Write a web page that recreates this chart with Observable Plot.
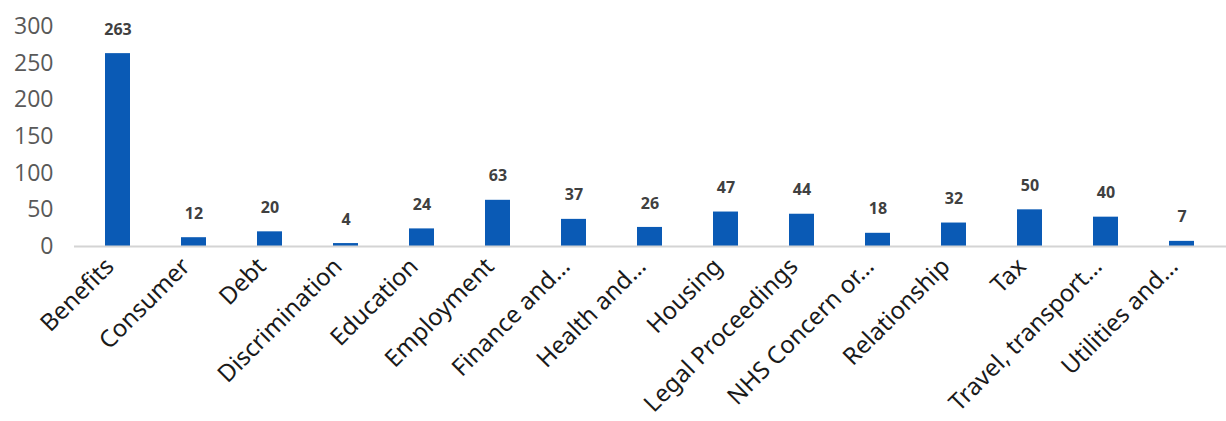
<!DOCTYPE html>
<html>
<head>
<meta charset="utf-8">
<script src="https://cdn.jsdelivr.net/npm/d3@7"></script>
<script src="https://cdn.jsdelivr.net/npm/@observablehq/plot@0.6"></script>
<style>
  html, body { margin: 0; padding: 0; background: #fff; }
  #chart svg { display: block; }
</style>
</head>
<body>
<div id="chart"></div>
<script>
// Enquiries by category
const categories = [
  "Benefits", "Consumer", "Debt", "Discrimination", "Education", "Employment",
  "Finance and…", "Health and…", "Housing", "Legal Proceedings",
  "NHS Concern or…", "Relationship", "Tax", "Travel, transport…", "Utilities and…"
];
const counts = [263, 12, 20, 4, 24, 63, 37, 26, 47, 44, 18, 32, 50, 40, 7];
const yTicks = [0, 50, 100, 150, 200, 250, 300];

const data = categories.map((category, i) => ({category, count: counts[i]}));

const chart = Plot.plot({
  width: 1226,
  height: 421,
  marginTop: 26,
  marginBottom: 175,
  marginLeft: 74,
  marginRight: 0,
  style: {background: "#fff", overflow: "visible"},
  x: {domain: categories, paddingInner: 0.67, paddingOuter: 0.335, label: null},
  y: {domain: [0, 300], label: null},
  marks: [
    Plot.axisY({
      ticks: yTicks, tickSize: 0, tickPadding: 21,
      fontSize: 23, fill: "#595959", fontFamily: "'Open Sans', sans-serif"
    }),
    Plot.axisX({
      tickSize: 0, tickRotate: -45, tickPadding: 16, dx: -8,
      fontSize: 24, fill: "#1a1a1a", fontFamily: "'Noto Sans', sans-serif"
    }),
    Plot.barY(data, {x: "category", y: "count", fill: "#0a5ab5"}),
    Plot.ruleY([0], {stroke: "#d4d4d4", strokeWidth: 2}),
    Plot.text(data, {
      x: "category", y: "count", text: d => String(d.count),
      dy: -24, fontSize: 16, fontWeight: "bold", fill: "#404040",
      fontFamily: "'Open Sans', sans-serif"
    })
  ]
});
document.getElementById("chart").append(chart);
</script>
</body>
</html>
